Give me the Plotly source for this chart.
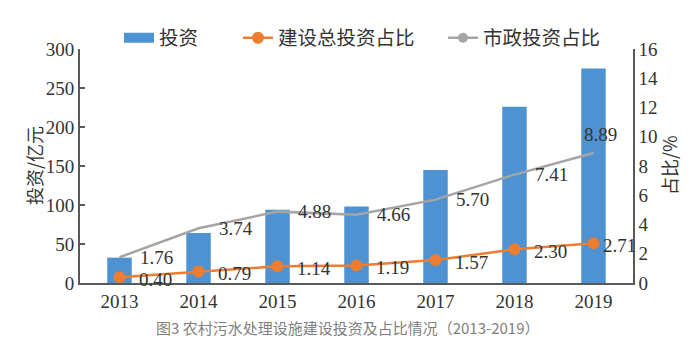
import plotly.graph_objects as go

years = ["2013", "2014", "2015", "2016", "2017", "2018", "2019"]
invest = [32.5, 64, 94, 98, 145, 226, 275]
total_ratio = [0.40, 0.79, 1.14, 1.19, 1.57, 2.30, 2.71]
muni_ratio = [1.76, 3.74, 4.88, 4.66, 5.70, 7.41, 8.89]

BLUE = "#4F92D1"
ORANGE = "#ED7D31"
GRAY = "#A5A5A5"
AXIS = "#595959"
TXT = "#333333"
SERIF = "Liberation Serif, Times New Roman, serif"
CJK = "Noto Sans CJK SC, sans-serif"

L, R, T, B = 80, 67, 49, 66
PW = 700 - L - R
PH = 349 - T - B


def px2x(px):
    return (px - L) / PW


def py2y(py):
    return (349 - B - py) / PH


fig = go.Figure()
fig.add_trace(go.Bar(x=years, y=invest, name="投资", marker=dict(color=BLUE, line=dict(width=0)),
                     yaxis="y", showlegend=False))
fig.add_trace(go.Scatter(x=years, y=total_ratio, name="建设总投资占比", mode="lines+markers",
                         line=dict(color=ORANGE, width=2.5), marker=dict(color=ORANGE, size=12), yaxis="y2",
                         showlegend=False))
fig.add_trace(go.Scatter(x=years, y=muni_ratio, name="市政投资占比", mode="lines",
                         line=dict(color=GRAY, width=2.5), yaxis="y2", showlegend=False))
# legend entries (wide rectangle for bars, line+dot for ratios)
fig.add_trace(go.Scatter(x=years[:1], y=[None], name="投资", mode="lines",
                         line=dict(color=BLUE, width=11), yaxis="y2", legend="legend"))
fig.add_trace(go.Scatter(x=years[:1], y=[None], name="建设总投资占比", mode="lines+markers",
                         line=dict(color=ORANGE, width=2.5), marker=dict(color=ORANGE, size=12), yaxis="y2",
                         legend="legend2"))
fig.add_trace(go.Scatter(x=years[:1], y=[None], name="市政投资占比", mode="lines+markers",
                         line=dict(color=GRAY, width=2.5), marker=dict(color=GRAY, size=10), yaxis="y2",
                         legend="legend3"))

ann = []
for i, v in enumerate(total_ratio):
    shift = 7 if i == len(years) - 1 else 17
    ann.append(dict(x=i, y=v, xref="x", yref="y2", text=f"{v:.2f}", showarrow=False,
                    xanchor="left", xshift=shift, yshift=-2, font=dict(family=SERIF, size=19, color=TXT)))
for i, v in enumerate(muni_ratio):
    if i == len(years) - 1:
        ann.append(dict(x=i, y=v, xref="x", yref="y2", text=f"{v:.2f}", showarrow=False,
                        xanchor="center", xshift=7, yshift=18, font=dict(family=SERIF, size=19, color=TXT)))
    else:
        ann.append(dict(x=i, y=v, xref="x", yref="y2", text=f"{v:.2f}", showarrow=False,
                        xanchor="left", xshift=18, yshift=0, font=dict(family=SERIF, size=19, color=TXT)))
ann.append(dict(x=px2x(348), y=py2y(327), xref="paper", yref="paper",
                text="图3 农村污水处理设施建设投资及占比情况（2013-2019）",
                showarrow=False, xanchor="center", yanchor="middle",
                font=dict(family=CJK, size=15, color="#7f7f7f")))
# axis titles
ann.append(dict(x=px2x(34), y=py2y(166), xref="paper", yref="paper", text="投资/亿元", textangle=-90,
                showarrow=False, xanchor="center", yanchor="middle",
                font=dict(family=CJK, size=18, color=TXT)))
ann.append(dict(x=px2x(669), y=py2y(165), xref="paper", yref="paper", text="占比/%", textangle=-90,
                showarrow=False, xanchor="center", yanchor="middle",
                font=dict(family=CJK, size=18, color=TXT)))


def leg(px):
    return dict(orientation="h", x=px2x(px), xanchor="left", y=py2y(38), yanchor="middle",
                font=dict(family=CJK, size=19.5, color=TXT), bgcolor="rgba(0,0,0,0)",
                itemwidth=30, borderwidth=0)


fig.update_layout(
    width=700, height=349,
    margin=dict(l=L, r=R, t=T, b=B),
    paper_bgcolor="white", plot_bgcolor="white",
    bargap=0.69,
    showlegend=True,
    legend=leg(119),
    legend2=leg(238),
    legend3=leg(443),
    annotations=ann,
    xaxis=dict(type="category", categoryorder="array", categoryarray=years,
               range=[-0.5, len(years) - 0.5], autorange=False,
               showline=True, linecolor=AXIS, linewidth=2, ticks="",
               tickfont=dict(family=SERIF, size=19, color=TXT), showgrid=False, zeroline=False),
    yaxis=dict(range=[0, 300], dtick=50, showline=True, linecolor=AXIS, linewidth=2,
               ticks="inside", ticklen=5, tickcolor=AXIS, tickwidth=1.5, showgrid=False, zeroline=False,
               tickfont=dict(family=SERIF, size=19, color=TXT)),
    yaxis2=dict(range=[0, 16], dtick=2, overlaying="y", side="right", showline=True, linecolor=AXIS,
                linewidth=1.5, ticks="", showgrid=False, zeroline=False,
                tickfont=dict(family=SERIF, size=19, color=TXT)),
)

fig.write_html("out.html")
